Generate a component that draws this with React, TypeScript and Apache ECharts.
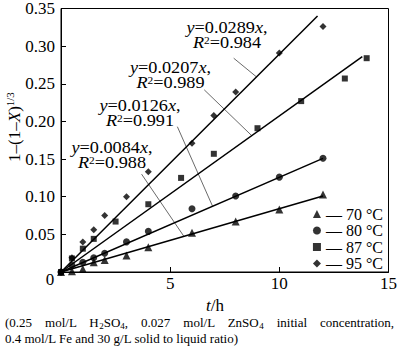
import React, { useEffect, useRef } from "react";
import * as echarts from "echarts";

const FONT = "'Liberation Serif', 'Times New Roman', serif";

const legendNames = ["70 °C", "80 °C", "87 °C", "95 °C"];
const symbols = ["triangle", "circle", "rect", "diamond"];
const symbolSizes = [8, 7, 6, 7];

const t70 = [0, 0.5, 1, 1.5, 2, 3, 4, 6, 8, 10, 12];
const v70 = [0, 0.001, 0.004, 0.013, 0.016, 0.022, 0.033, 0.052, 0.067, 0.083, 0.103];
const t80 = [0, 0.5, 1, 1.5, 2, 3, 4, 6, 8, 10, 12];
const v80 = [0, 0.009, 0.013, 0.019, 0.025, 0.04, 0.054, 0.084, 0.101, 0.126, 0.151];
const t87 = [0, 0.5, 1, 1.5, 2.5, 4, 5.5, 7, 9, 11, 13, 14];
const v87 = [0, 0.018, 0.031, 0.044, 0.067, 0.09, 0.125, 0.157, 0.191, 0.227, 0.257, 0.284];
const t95 = [0, 0.5, 1, 1.5, 2, 3, 4, 6, 7, 8, 10, 12];
const v95 = [0, 0.019, 0.04, 0.056, 0.075, 0.1, 0.133, 0.171, 0.208, 0.239, 0.291, 0.326];

// fitted lines y = k t through the origin: end points
const fit70 = [[0, 0], [12, 0.101]];
const fit80 = [[0, 0], [12, 0.151]];
const fit87 = [[0, 0], [13.8, 0.286]];
const fit95 = [[0, 0], [11.75, 0.34]];

// leader lines from labels to fitted lines
const lead95 = [[7.91, 0.284], [8.96, 0.259]];
const lead87 = [[6.56, 0.242], [8.74, 0.181]];
const lead80 = [[5.33, 0.193], [6.94, 0.0875]];
const lead70 = [[3.69, 0.13], [5.63, 0.0473]];

const slopes = ["0.0289", "0.0207", "0.0126", "0.0084"];
const r2s = ["0.984", "0.989", "0.991", "0.988"];

const yTicks = [0, 0.05, 0.1, 0.15, 0.2, 0.25, 0.3, 0.35];
const xTicks = [0, 5, 10, 15];

const zip = (a: number[], b: number[]) => a.map((x, i) => [x, b[i]]);

const annRich = {
  b: { fontFamily: FONT, fontSize: 16, fill: "#000", color: "#000", lineHeight: 15, verticalAlign: "middle" },
  i: { fontFamily: FONT, fontSize: 16, color: "#000", fontStyle: "italic", lineHeight: 15, verticalAlign: "middle" },
  sup: { fontFamily: FONT, fontSize: 10, color: "#000", lineHeight: 9, verticalAlign: "top" },
};

const richBase = {
  b: { fontFamily: FONT, fontSize: 17, color: "#000", lineHeight: 18, verticalAlign: "middle" },
  i: { fontFamily: FONT, fontSize: 17, color: "#000", fontStyle: "italic", lineHeight: 18, verticalAlign: "middle" },
};

const captionRich = {
  b: { fontFamily: FONT, fontSize: 13, color: "#000", lineHeight: 16, verticalAlign: "middle" },
  sub: { fontFamily: FONT, fontSize: 9, color: "#000", lineHeight: 9, verticalAlign: "bottom" },
};

export default function App() {
  const ref = useRef<HTMLDivElement>(null);
  useEffect(() => {
    document.body.style.margin = "0";
    const chart = echarts.init(ref.current!, null, { renderer: "svg" });
    const scatterData = [zip(t70, v70), zip(t80, v80), zip(t87, v87), zip(t95, v95)];
    const fits = [fit70, fit80, fit87, fit95];
    const leads = [lead95, lead87, lead80, lead70];
    const series: any[] = [];
    fits.forEach((f) => {
      series.push({
        type: "line",
        data: f,
        showSymbol: false,
        symbol: "none",
        silent: true,
        lineStyle: { color: "#000", width: 1.5 },
        z: 2,
      });
    });
    leads.forEach((l) => {
      series.push({
        type: "line",
        data: l,
        showSymbol: false,
        symbol: "none",
        silent: true,
        lineStyle: { color: "#444", width: 0.8 },
        z: 1,
      });
    });
    scatterData.forEach((d, i) => {
      series.push({
        type: "scatter",
        name: legendNames[i],
        data: d,
        symbol: symbols[i],
        symbolSize: symbolSizes[i],
        itemStyle: { color: "#000" },
        z: 3,
      });
    });

    const labelPos = [
      [227, 35.5],
      [170.5, 75],
      [140, 113.5],
      [112, 155],
    ];
    const graphics: any[] = [];
    labelPos.forEach((p, i) => {
      graphics.push({
        type: "text",
        x: p[0],
        y: p[1],
        scaleX: 1.14,
        style: {
          text: `{i|y}{b|=${slopes[i]}}{i|x}{b|,}\n{i|R}{sup|2}{b|=${r2s[i]}}`,
          rich: annRich,
          align: "center",
          verticalAlign: "middle",
        },
      });
    });
    graphics.push({
      type: "text",
      x: 14,
      y: 127,
      rotation: Math.PI / 2,
      style: {
        text: "{b|1–(1–}{i|X}{b|)}{sup|1/3}",
        rich: {
          b: { fontFamily: FONT, fontSize: 17, color: "#000", lineHeight: 20, verticalAlign: "middle" },
          i: { fontFamily: FONT, fontSize: 17, color: "#000", fontStyle: "italic", lineHeight: 20, verticalAlign: "middle" },
          sup: { fontFamily: FONT, fontSize: 11, color: "#000", lineHeight: 11, verticalAlign: "top" },
        },
        align: "center",
        verticalAlign: "middle",
      },
    });
    graphics.push({
      type: "text",
      x: 50,
      y: 279,
      style: { text: "0", font: `17px ${FONT}`, fill: "#000", align: "center", verticalAlign: "middle" },
    });
    graphics.push({
      type: "text",
      x: 215,
      y: 305,
      style: { text: "{i|t}{b|/h}", rich: richBase, align: "center", verticalAlign: "middle" },
    });
    graphics.push({
      type: "text",
      x: 5,
      y: 322,
      style: {
        text:
          "{b|(0.25    mol/L    H}{sub|2}{b|SO}{sub|4}{b|,    0.027    mol/L    ZnSO}{sub|4}{b|    initial    concentration,}",
        rich: captionRich,
        align: "left",
        verticalAlign: "middle",
      },
    });
    graphics.push({
      type: "text",
      x: 5,
      y: 338,
      style: {
        text: "{b|0.4 mol/L Fe and 30 g/L solid to liquid ratio)}",
        rich: captionRich,
        align: "left",
        verticalAlign: "middle",
      },
    });

    chart.setOption({
      animation: false,
      grid: {
        left: 61,
        top: 5,
        right: 6,
        bottom: 84,
        show: true,
        borderColor: "#000",
        borderWidth: 1,
        backgroundColor: "transparent",
      },
      legend: {
        data: legendNames,
        orient: "vertical",
        right: 12,
        top: 201,
        itemWidth: 8,
        itemHeight: 8,
        itemGap: 0.5,
        formatter: (n: string) => "— " + n,
        textStyle: { fontFamily: FONT, fontSize: 16, color: "#000" },
        selectedMode: false,
      },
      xAxis: {
        type: "value",
        min: xTicks[0],
        max: xTicks[xTicks.length - 1],
        interval: 5,
        axisLine: { lineStyle: { color: "#000", width: 1 } },
        axisTick: { inside: true, length: 5, lineStyle: { color: "#000" } },
        splitLine: { show: false },
        axisLabel: {
          color: "#000",
          fontFamily: FONT,
          fontSize: 17,
          margin: 3,
          formatter: (v: number) => (v === 0 ? "" : String(v)),
        },
      },
      yAxis: {
        type: "value",
        min: yTicks[0],
        max: yTicks[yTicks.length - 1],
        interval: 0.05,
        axisLine: { lineStyle: { color: "#000", width: 1 } },
        axisTick: { inside: true, length: 5, lineStyle: { color: "#000" } },
        splitLine: { show: false },
        axisLabel: {
          color: "#000",
          fontFamily: FONT,
          fontSize: 17,
          margin: 6,
          formatter: (v: number) => (v === 0 ? "" : v.toFixed(2)),
        },
      },
      graphic: graphics,
      series,
    });
    return () => chart.dispose();
  }, []);
  return <div ref={ref} style={{ width: 400, height: 356 }} />;
}
